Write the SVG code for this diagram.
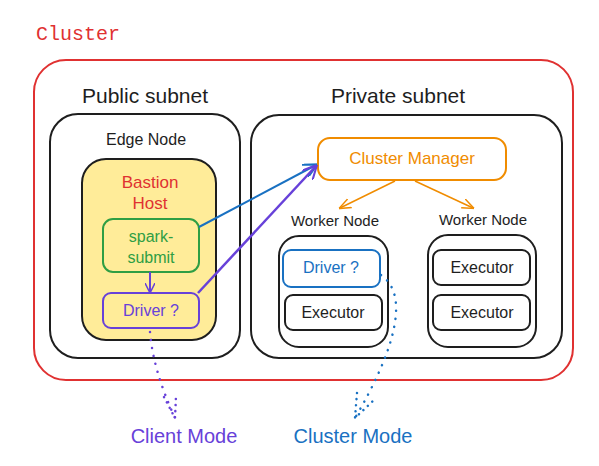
<svg xmlns="http://www.w3.org/2000/svg" width="599" height="466" viewBox="0 0 599 466">
<defs>
<style>
.t{font-family:"Liberation Sans","DejaVu Sans",sans-serif;text-anchor:middle;dominant-baseline:central}
.box{fill:none;stroke:#1e1e1e;stroke-width:2}
</style>
<marker id="ap" viewBox="0 0 10 10" refX="9" refY="5" markerWidth="10" markerHeight="10" markerUnits="userSpaceOnUse" orient="auto"><path d="M0,0 L10,5 L0,10" fill="none" stroke="#6741d9" stroke-width="1.5"/></marker>
<marker id="ab" viewBox="0 0 10 10" refX="9" refY="5" markerWidth="14" markerHeight="14" markerUnits="userSpaceOnUse" orient="auto"><path d="M0,0 L10,5 L0,10" fill="none" stroke="#1971c2" stroke-width="1.5"/></marker>
<marker id="ap2" viewBox="0 0 10 10" refX="9" refY="5" markerWidth="14" markerHeight="14" markerUnits="userSpaceOnUse" orient="auto"><path d="M0,0 L10,5 L0,10" fill="none" stroke="#6741d9" stroke-width="1.5"/></marker>
<marker id="ao" viewBox="0 0 10 10" refX="9" refY="5" markerWidth="12" markerHeight="12" markerUnits="userSpaceOnUse" orient="auto"><path d="M0,1 L10,5 L0,9" fill="none" stroke="#f08c00" stroke-width="1.2"/></marker>
</defs>
<g id="cluster">
<rect x="34" y="60" width="539" height="320" rx="32" fill="none" stroke="#e03131" stroke-width="2"/>
<text x="78" y="34" class="t" style="font-family:'Liberation Mono','DejaVu Sans Mono',monospace;font-size:20px;fill:#e03131">Cluster</text>
</g>
<g id="public-subnet">
<text x="145" y="95" class="t" style="font-size:21px;fill:#1e1e1e">Public subnet</text>
<rect x="50" y="114" width="190" height="244" rx="28" class="box"/>
<text x="146" y="139" class="t" style="font-size:16px;fill:#1e1e1e">Edge Node</text>
</g>
<g id="bastion-host">
<rect x="82" y="159" width="134" height="181" rx="24" fill="#ffec99" stroke="#1e1e1e" stroke-width="2"/>
<text x="150" y="182" class="t" style="font-size:17px;fill:#e03131">Bastion</text>
<text x="150" y="203" class="t" style="font-size:17px;fill:#e03131">Host</text>
</g>
<g id="spark-submit">
<rect x="103" y="219" width="96" height="53" rx="10" fill="none" stroke="#2f9e44" stroke-width="2"/>
<text x="151" y="236" class="t" style="font-size:16px;fill:#2f9e44">spark-</text>
<text x="151" y="257" class="t" style="font-size:16px;fill:#2f9e44">submit</text>
</g>
<g id="driver-client">
<rect x="103" y="293" width="96" height="35" rx="8" fill="none" stroke="#6741d9" stroke-width="2"/>
<text x="151" y="310" class="t" style="font-size:16px;fill:#6741d9">Driver ?</text>
</g>
<g id="private-subnet">
<text x="398" y="95" class="t" style="font-size:21px;fill:#1e1e1e">Private subnet</text>
<rect x="251" y="115" width="311" height="243" rx="28" class="box"/>
</g>
<g id="cluster-manager">
<rect x="318" y="138" width="188" height="42" rx="12" fill="none" stroke="#f08c00" stroke-width="2"/>
<text x="412" y="158" class="t" style="font-size:17px;fill:#f08c00">Cluster Manager</text>
</g>
<g id="worker-node-1">
<text x="335" y="220" class="t" style="font-size:15px;fill:#1e1e1e">Worker Node</text>
<rect x="279" y="236" width="109" height="111" rx="20" class="box"/>
</g>
<g id="driver-cluster">
<rect x="283" y="250" width="97" height="37" rx="8" fill="none" stroke="#1971c2" stroke-width="2"/>
<text x="331" y="267" class="t" style="font-size:16px;fill:#1971c2">Driver ?</text>
</g>
<g id="executor-1">
<rect x="285" y="295" width="97" height="35" rx="8" class="box"/>
<text x="333" y="312" class="t" style="font-size:16px;fill:#1e1e1e">Executor</text>
</g>
<g id="worker-node-2">
<text x="483" y="219" class="t" style="font-size:15px;fill:#1e1e1e">Worker Node</text>
<rect x="428" y="235" width="108" height="112" rx="20" class="box"/>
</g>
<g id="executor-2">
<rect x="433" y="250" width="97" height="35" rx="8" class="box"/>
<text x="482" y="267" class="t" style="font-size:16px;fill:#1e1e1e">Executor</text>
</g>
<g id="executor-3">
<rect x="433" y="295" width="97" height="35" rx="8" class="box"/>
<text x="482" y="312" class="t" style="font-size:16px;fill:#1e1e1e">Executor</text>
</g>
<g id="client-mode">
<text x="184" y="436" class="t" style="font-size:20px;fill:#6741d9">Client Mode</text>
</g>
<g id="cluster-mode">
<text x="353" y="436" class="t" style="font-size:20px;fill:#1971c2">Cluster Mode</text>
</g>
<g id="connectors">
<line x1="150" y1="272" x2="150" y2="292" stroke="#6741d9" stroke-width="2" marker-end="url(#ap)"/>
<line x1="199" y1="227" x2="316" y2="165" stroke="#1971c2" stroke-width="2" marker-end="url(#ab)"/>
<line x1="198" y1="293" x2="316" y2="166" stroke="#6741d9" stroke-width="2.5" marker-end="url(#ap2)"/>
<line x1="395" y1="181" x2="340" y2="208" stroke="#f08c00" stroke-width="1.5" marker-end="url(#ao)"/>
<line x1="415" y1="181" x2="473" y2="208" stroke="#f08c00" stroke-width="1.5" marker-end="url(#ao)"/>
<path d="M150,332 Q153,370 175,418" fill="none" stroke="#6741d9" stroke-width="2.5" stroke-dasharray="0.1 8" stroke-linecap="round"/>
<path d="M164,397 L175,418 L176,396" fill="none" stroke="#6741d9" stroke-width="2.5" stroke-dasharray="0.1 6" stroke-linecap="round"/>
<path d="M381,275 C410,295 395,350 355,418" fill="none" stroke="#1971c2" stroke-width="2.5" stroke-dasharray="0.1 8" stroke-linecap="round"/>
<path d="M357,393 L355,418 L374,400" fill="none" stroke="#1971c2" stroke-width="2.5" stroke-dasharray="0.1 6" stroke-linecap="round"/>
</g>
</svg>
